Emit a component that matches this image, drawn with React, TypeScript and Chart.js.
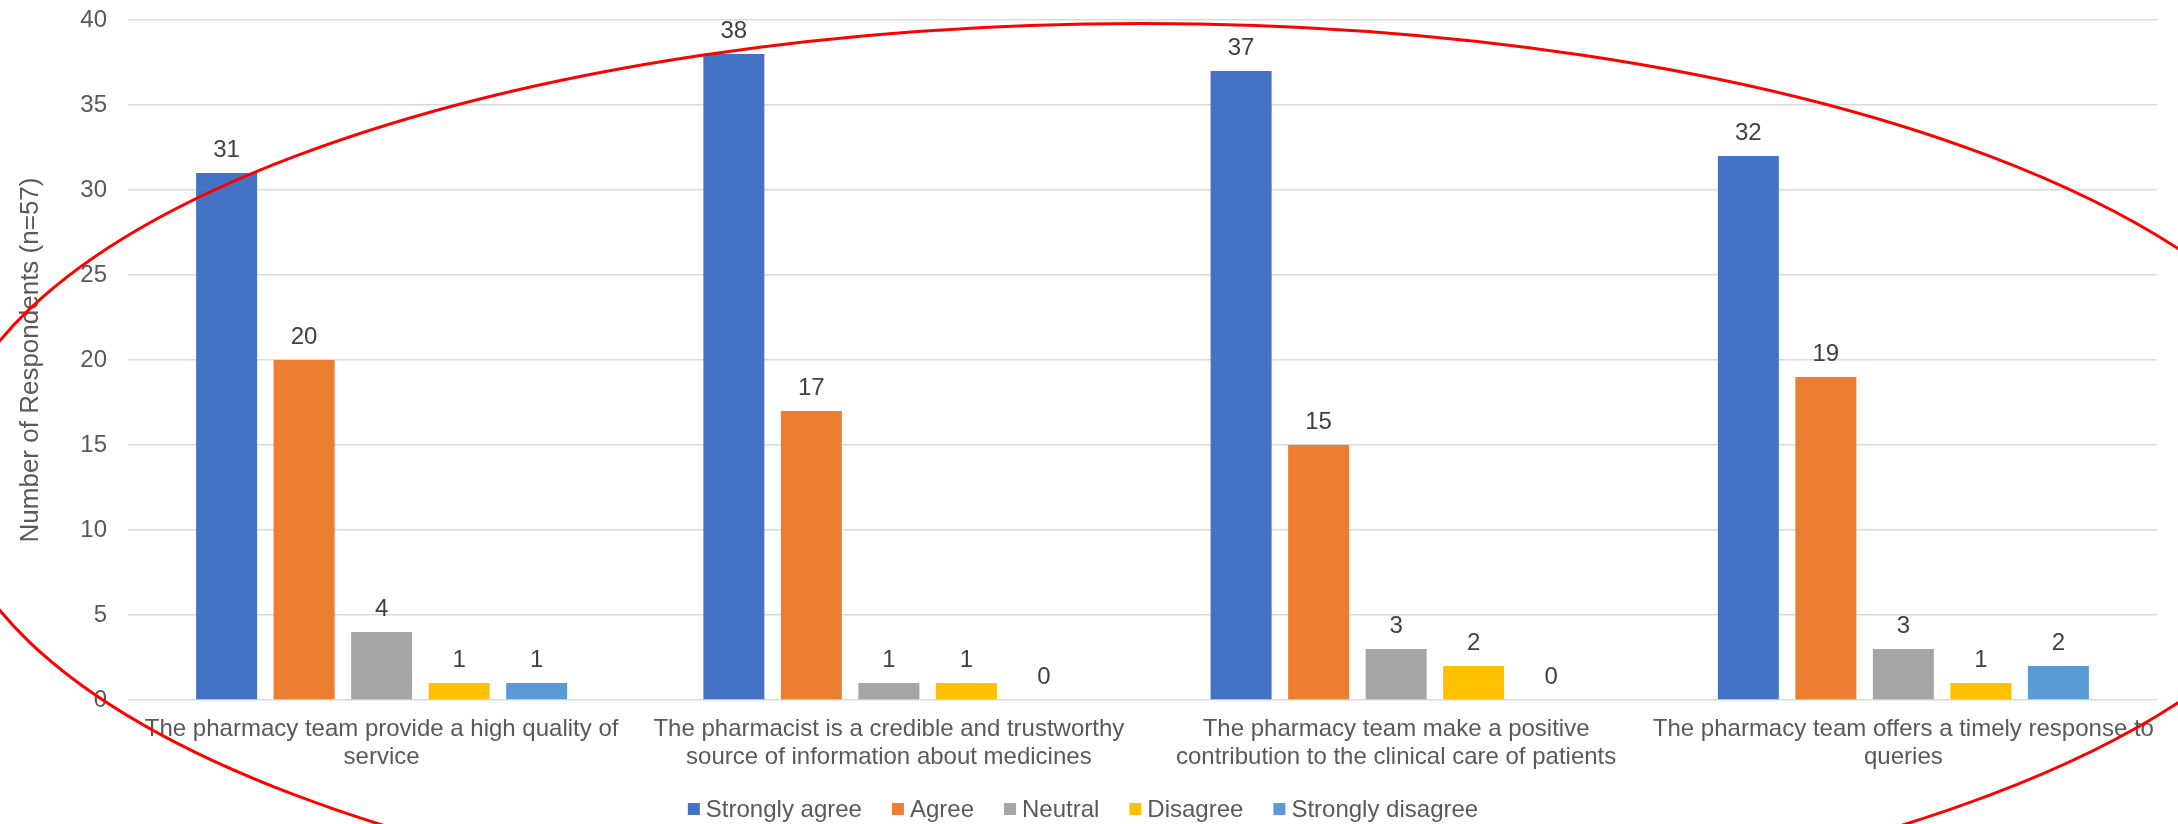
import React, { useEffect, useRef } from 'react';
import { Chart, registerables } from 'chart.js';

Chart.register(...registerables);

const FONT = '"Liberation Sans", Arial, Helvetica, sans-serif';

const categories: string[][] = [
  ['The pharmacy team provide a high quality of', 'service'],
  ['The pharmacist is a credible and trustworthy', 'source of information about medicines'],
  ['The pharmacy team make a positive', 'contribution to the clinical care of patients'],
  ['The pharmacy team offers a timely response to', 'queries'],
];

const seriesNames = ['Strongly agree', 'Agree', 'Neutral', 'Disagree', 'Strongly disagree'];
const seriesColors = ['#4472C4', '#ED7D31', '#A5A5A5', '#FFC000', '#5B9BD5'];

const stronglyAgree = [31, 38, 37, 32];
const agree = [20, 17, 15, 19];
const neutral = [4, 1, 3, 3];
const disagree = [1, 1, 2, 1];
const stronglyDisagree = [1, 0, 0, 2];

const yMin = 0;
const yMax = 40;
const yStep = 5;
const yTitle = 'Number of Respondents (n=57)';

// Red hand-drawn style ellipse annotation, in data units
const ellipseCenterCategory = 1.5;
const ellipseCenterValue = 13.2;
const ellipseHalfWidthCategories = 2.36;
const ellipseHalfHeightValue = 26.6;

const dataLabelPlugin = {
  id: 'dataLabels',
  afterDatasetsDraw(chart: any) {
    const ctx = chart.ctx;
    ctx.save();
    ctx.font = `24px ${FONT}`;
    ctx.fillStyle = '#404040';
    ctx.textAlign = 'center';
    ctx.textBaseline = 'alphabetic';
    chart.data.datasets.forEach((ds: any, i: number) => {
      const meta = chart.getDatasetMeta(i);
      meta.data.forEach((el: any, j: number) => {
        ctx.fillText(String(ds.data[j]), el.x, el.y - 16.5);
      });
    });
    ctx.restore();
  },
};

const legendPlugin = {
  id: 'customLegend',
  afterDraw(chart: any) {
    const ctx = chart.ctx;
    ctx.save();
    ctx.font = `24px ${FONT}`;
    ctx.textBaseline = 'middle';
    ctx.textAlign = 'left';
    const box = 12;
    const boxGap = 6;
    const itemGap = 30;
    const widths = seriesNames.map((n) => box + boxGap + ctx.measureText(n).width);
    const total = widths.reduce((a, b) => a + b, 0) + itemGap * (seriesNames.length - 1);
    let x = chart.width / 2 - 6 - total / 2;
    const yc = 809;
    seriesNames.forEach((n, i) => {
      ctx.fillStyle = seriesColors[i];
      ctx.fillRect(x, yc - box / 2, box, box);
      ctx.fillStyle = '#595959';
      ctx.fillText(n, x + box + boxGap, yc + 1);
      x += widths[i] + itemGap;
    });
    ctx.restore();
  },
};

const ellipsePlugin = {
  id: 'ellipseAnnotation',
  afterDraw(chart: any) {
    const xs = chart.scales.x;
    const ys = chart.scales.y;
    const cx = xs.getPixelForValue(ellipseCenterCategory);
    const cy = ys.getPixelForValue(ellipseCenterValue);
    const rx = (xs.getPixelForValue(1) - xs.getPixelForValue(0)) * ellipseHalfWidthCategories;
    const ry = ys.getPixelForValue(0) - ys.getPixelForValue(ellipseHalfHeightValue);
    const ctx = chart.ctx;
    ctx.save();
    ctx.beginPath();
    ctx.ellipse(cx, cy, rx, ry, 0, 0, Math.PI * 2);
    ctx.strokeStyle = '#FF0000';
    ctx.lineWidth = 3;
    ctx.stroke();
    ctx.restore();
  },
};

export default function App() {
  const canvasRef = useRef<HTMLCanvasElement | null>(null);

  useEffect(() => {
    if (!canvasRef.current) return;
    Chart.defaults.font.family = FONT;
    const seriesData = [stronglyAgree, agree, neutral, disagree, stronglyDisagree];
    const chart = new Chart(canvasRef.current, {
      type: 'bar',
      data: {
        labels: categories,
        datasets: seriesNames.map((name, i) => ({
          label: name,
          data: seriesData[i],
          backgroundColor: seriesColors[i],
          borderWidth: 0,
          categoryPercentage: 0.764,
          barPercentage: 0.787,
        })),
      },
      options: {
        responsive: false,
        animation: false,
        devicePixelRatio: 1,
        layout: { padding: { left: 0, right: 21, top: 20, bottom: 0 } },
        plugins: {
          legend: { display: false },
          tooltip: { enabled: false },
        },
        scales: {
          x: {
            grid: { display: false, drawTicks: false },
            border: { display: false },
            ticks: {
              color: '#595959',
              font: { size: 24, lineHeight: 1.15 },
              padding: 16,
              maxRotation: 0,
              minRotation: 0,
              autoSkip: false,
            },
            afterFit: (s: any) => {
              s.height = 124;
            },
          },
          y: {
            min: yMin,
            max: yMax,
            ticks: { stepSize: yStep, color: '#595959', font: { size: 24 }, padding: 21 },
            grid: { color: '#D9D9D9', lineWidth: 1.5, drawTicks: false },
            border: { display: false },
            title: {
              display: true,
              text: yTitle,
              color: '#595959',
              font: { size: 26 },
              padding: { top: 15, bottom: 0 },
            },
            afterFit: (s: any) => {
              s.width = 128;
              s.paddingTop = 0;
              s.paddingBottom = 0;
            },
          },
        },
      } as any,
      plugins: [dataLabelPlugin, legendPlugin, ellipsePlugin],
    });
    return () => chart.destroy();
  }, []);

  return (
    <div style={{ position: 'absolute', left: 0, top: 0, width: 2178, height: 824, background: '#fff' }}>
      <canvas ref={canvasRef} width={2178} height={824} style={{ display: 'block' }} />
    </div>
  );
}
